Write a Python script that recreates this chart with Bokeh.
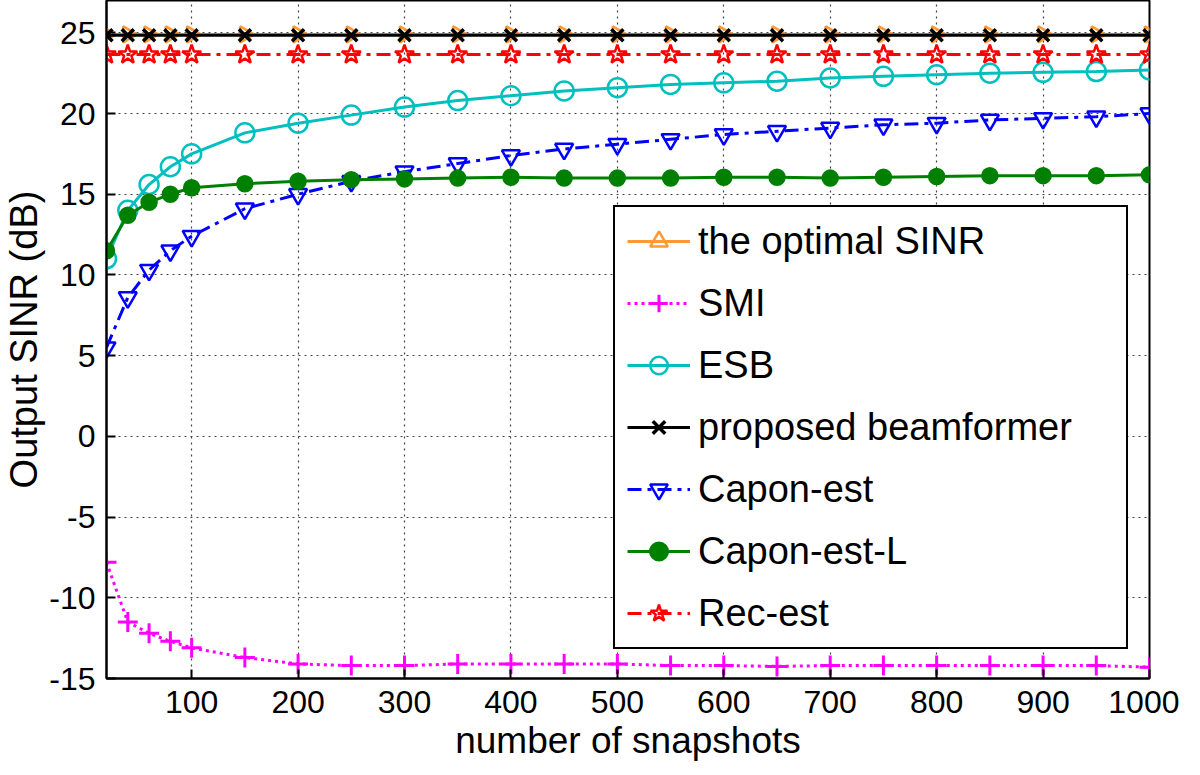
import math
from bokeh.plotting import figure
from bokeh.models import Range1d, FixedTicker, Legend
from bokeh.embed import file_html
from bokeh.resources import INLINE

snapshots = [20, 40, 60, 80, 100, 150, 200, 250, 300, 350, 400, 450, 500,
             550, 600, 650, 700, 750, 800, 850, 900, 950, 1000]

optimal_sinr = [24.9] * 23
smi = [-7.8, -11.5, -12.2, -12.7, -13.1, -13.7, -14.1, -14.2, -14.2, -14.1, -14.1,
       -14.1, -14.1, -14.2, -14.2, -14.25, -14.2, -14.2, -14.2, -14.2, -14.2, -14.2, -14.3]
esb = [11.0, 14.0, 15.6, 16.7, 17.5, 18.8, 19.4, 19.9, 20.4, 20.8, 21.1, 21.4, 21.6,
       21.8, 21.9, 22.0, 22.2, 22.3, 22.4, 22.5, 22.55, 22.6, 22.7]
proposed = [24.85] * 23
capon_est = [5.5, 8.6, 10.3, 11.5, 12.4, 14.1, 15.0, 15.8, 16.4, 16.9, 17.4, 17.8, 18.1,
             18.4, 18.7, 18.9, 19.1, 19.3, 19.4, 19.6, 19.7, 19.8, 20.0]
capon_est_l = [11.5, 13.7, 14.5, 15.0, 15.4, 15.65, 15.8, 15.9, 15.95, 16.0, 16.05, 16.0,
               16.0, 16.0, 16.05, 16.05, 16.0, 16.05, 16.1, 16.15, 16.15, 16.15, 16.2]
rec_est = [23.65] * 23

x_ticks = [100, 200, 300, 400, 500, 600, 700, 800, 900, 1000]
y_ticks = [-15, -10, -5, 0, 5, 10, 15, 20, 25]

FONT = "Liberation Sans"

p = figure(frame_width=1043, frame_height=678,
           x_range=Range1d(20, 1000), y_range=Range1d(-15, 27),
           output_backend="svg", toolbar_location=None,
           min_border_top=0, min_border_right=30, min_border_left=0, min_border_bottom=0)

p.outline_line_color = "black"
p.outline_line_width = 2
p.outline_line_alpha = 1

for ax in (p.xaxis[0], p.yaxis[0]):
    ax.axis_line_color = "black"
    ax.axis_line_width = 2
    ax.major_tick_in = 9
    ax.major_tick_out = 0
    ax.major_tick_line_width = 2
    ax.minor_tick_line_color = None
    ax.major_label_text_font = FONT
    ax.major_label_text_font_size = "32px"
    ax.major_label_text_color = "black"
    ax.axis_label_text_font = FONT
    ax.axis_label_text_font_style = "normal"
    ax.axis_label_text_color = "black"

p.xaxis.ticker = FixedTicker(ticks=x_ticks)
p.yaxis.ticker = FixedTicker(ticks=y_ticks)
p.yaxis.major_label_overrides = {t: str(t) for t in y_ticks}
p.xaxis.axis_label = "number of snapshots"
p.yaxis.axis_label = "Output SINR (dB)"
p.xaxis.axis_label_text_font_size = "37px"
p.yaxis.axis_label_text_font_size = "38px"
p.xaxis.major_label_standoff = 12
p.yaxis.major_label_standoff = 11
p.xaxis.axis_label_standoff = 4
p.yaxis.axis_label_standoff = 1

p.grid.grid_line_color = "#444444"
p.grid.grid_line_dash = "2 4"
p.grid.grid_line_width = 1.2
p.xgrid.ticker = FixedTicker(ticks=x_ticks)
p.ygrid.ticker = FixedTicker(ticks=y_ticks)

LW = 3
items = []

def series(y, color, dash, marker, label, size=17, fill=None, angle=0.0, mlw=2.5):
    r1 = p.line(snapshots, y, line_color=color, line_width=LW, line_dash=dash)
    r2 = p.scatter(snapshots, y, marker=marker, size=size, line_color=color,
                   line_width=mlw, fill_color=fill, angle=angle)
    items.append((label, [r1, r2]))

series(optimal_sinr, "#FF9933", "solid", "triangle", "the optimal SINR", size=16, angle=-math.pi / 2)
series(smi, "#FF00FF", "3 4", "cross", "SMI", size=20, mlw=3)
series(esb, "#00BFBF", "solid", "circle", "ESB", size=19)
series(proposed, "black", "solid", "x", "proposed beamformer", size=17, mlw=3.5)
series(capon_est, "#0000FF", "14 6 4 6", "inverted_triangle", "Capon-est", size=18)
series(capon_est_l, "#008000", "solid", "circle", "Capon-est-L", size=15, fill="#008000")
series(rec_est, "#FF0000", "14 6 4 6", "star", "Rec-est", size=20)

legend = Legend(items=items, location=(507, 29))
legend.label_text_font = FONT
legend.label_text_font_size = "38px"
legend.label_text_color = "black"
legend.glyph_width = 63
legend.glyph_height = 44
legend.label_height = 44
legend.label_width = 416
legend.label_standoff = 8
legend.spacing = 18
legend.padding = 12
legend.margin = 0
legend.border_line_color = "black"
legend.border_line_alpha = 1
legend.border_line_width = 2
legend.background_fill_color = "white"
legend.background_fill_alpha = 1
p.add_layout(legend, "center")

open("out.html", "w").write(file_html(p, INLINE))
